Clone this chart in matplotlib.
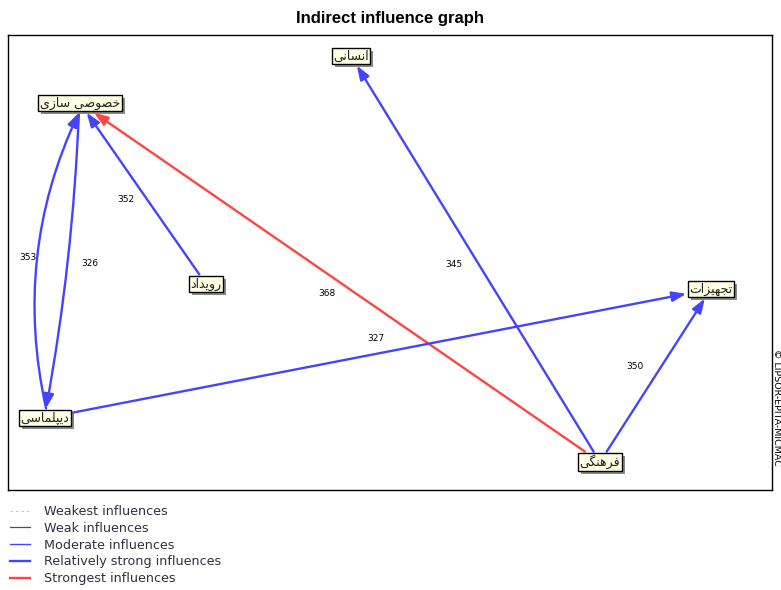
import matplotlib
matplotlib.use("Agg")
import matplotlib.pyplot as plt
from matplotlib.patches import FancyArrowPatch, Rectangle
from matplotlib.lines import Line2D

# graph data
nodes = ["خصوصی سازی", "انسانی", "رویداد", "تجهیزات", "دیپلماسی", "فرهنگی"]
edge_src = ["رویداد", "دیپلماسی", "خصوصی سازی", "فرهنگی", "فرهنگی", "فرهنگی", "دیپلماسی"]
edge_dst = ["خصوصی سازی", "خصوصی سازی", "دیپلماسی", "خصوصی سازی", "انسانی", "تجهیزات", "تجهیزات"]
edge_val = [352, 353, 326, 368, 345, 350, 327]
edge_kind = ["rstrong", "rstrong", "rstrong", "strongest", "rstrong", "rstrong", "rstrong"]

legend_labels = ["Weakest influences", "Weak influences", "Moderate influences",
                 "Relatively strong influences", "Strongest influences"]

# layout (pixel-like coordinates of the frame)
pos = {
    "خصوصی سازی": (80, 103),
    "انسانی": (351, 56),
    "رویداد": (206, 284),
    "تجهیزات": (711, 289),
    "دیپلماسی": (45, 418),
    "فرهنگی": (600, 462),
}
edge_rad = [0, -0.17, -0.035, 0, 0, 0, 0]
label_off = [(-17, 6), (0, 0), (0, 0), (-13, 11), (-21, 6), (-21, -9), (-4, -15)]
curve_label_pos = {1: (28, 258), 2: (90, 264)}

styles = {
    "weakest": dict(color="#c0c0c0", lw=0.8, ls=(0, (2, 3))),
    "weak": dict(color="#505050", lw=0.9, ls="-"),
    "moderate": dict(color="#4444ff", lw=1.0, ls="-"),
    "rstrong": dict(color="#4444ff", lw=1.7, ls="-"),
    "strongest": dict(color="#ff4444", lw=1.7, ls="-"),
}

# Arabic shaping (matplotlib has no complex text layout)
FORMS = {
    'ا': ('\uFE8D', '\uFE8E', None, None),
    'پ': ('\uFB56', '\uFB57', '\uFB58', '\uFB59'),
    'ت': ('\uFE95', '\uFE96', '\uFE97', '\uFE98'),
    'ج': ('\uFE9D', '\uFE9E', '\uFE9F', '\uFEA0'),
    'خ': ('\uFEA5', '\uFEA6', '\uFEA7', '\uFEA8'),
    'د': ('\uFEA9', '\uFEAA', None, None),
    'ر': ('\uFEAD', '\uFEAE', None, None),
    'ز': ('\uFEAF', '\uFEB0', None, None),
    'س': ('\uFEB1', '\uFEB2', '\uFEB3', '\uFEB4'),
    'ص': ('\uFEB9', '\uFEBA', '\uFEBB', '\uFEBC'),
    'ف': ('\uFED1', '\uFED2', '\uFED3', '\uFED4'),
    'گ': ('\uFB92', '\uFB93', '\uFB94', '\uFB95'),
    'ل': ('\uFEDD', '\uFEDE', '\uFEDF', '\uFEE0'),
    'م': ('\uFEE1', '\uFEE2', '\uFEE3', '\uFEE4'),
    'ن': ('\uFEE5', '\uFEE6', '\uFEE7', '\uFEE8'),
    'ه': ('\uFEE9', '\uFEEA', '\uFEEB', '\uFEEC'),
    'و': ('\uFEED', '\uFEEE', None, None),
    'ی': ('\uFBFC', '\uFBFD', '\uFBFE', '\uFBFF'),
}


def shape(s):
    out = []
    for i, ch in enumerate(s):
        if ch not in FORMS:
            out.append(ch)
            continue
        prev = s[i - 1] if i > 0 else None
        nxt = s[i + 1] if i + 1 < len(s) else None
        f = FORMS[ch]
        jp = prev in FORMS and FORMS[prev][2] is not None
        jn = nxt in FORMS and f[2] is not None
        if jp and jn:
            g = f[3]
        elif jp:
            g = f[1]
        elif jn:
            g = f[2]
        else:
            g = f[0]
        out.append(g)
    return "".join(reversed(out))


W, H = 781, 590
fig = plt.figure(figsize=(W / 100, H / 100), dpi=100)
x0, x1, y0, y1 = 8, 772, 35, 490
ax = fig.add_axes([x0 / W, 1 - y1 / H, (x1 - x0) / W, (y1 - y0) / H])
ax.set_xlim(x0, x1)
ax.set_ylim(y1, y0)
ax.set_xticks([])
ax.set_yticks([])
for sp in ax.spines.values():
    sp.set_linewidth(1.0)
    sp.set_color("black")

fig.text(0.5, 1 - 18 / H, "Indirect influence graph", ha="center", va="center",
         fontsize=12, fontweight="bold", family="Liberation Sans")

fig.text(776 / W, 1 - 407 / H, "© LIPSOR-EPITA-MICMAC", rotation=-90,
         ha="center", va="center", fontsize=6.8, family="DejaVu Sans")

# node labels
boxes = {}
for n in nodes:
    x, y = pos[n]
    boxes[n] = ax.text(x, y, shape(n), ha="center", va="center", fontsize=9,
                       color="#202020", family="DejaVu Sans", zorder=5,
                       bbox=dict(boxstyle="square,pad=0.12", fc="#ffffe4", ec="black", lw=1))

fig.canvas.draw()
inv = ax.transData.inverted()
half = {}
for n in nodes:
    bb = boxes[n].get_bbox_patch().get_window_extent()
    (ax_, ay_), (bx_, by_) = inv.transform([(bb.x0, bb.y0), (bb.x1, bb.y1)])
    w, h = abs(bx_ - ax_), abs(by_ - ay_)
    half[n] = (w / 2 + 1.5, h / 2 + 1.5)
    # drop shadow
    ax.add_patch(Rectangle((min(ax_, bx_) + 3, min(ay_, by_) + 3), w, h,
                           fc="#8a8a8a", ec="none", zorder=4))


def clip(a, b):
    cx, cy = pos[a]
    dx, dy = pos[b][0] - cx, pos[b][1] - cy
    hw, hh = half[a]
    t = min(hw / abs(dx) if dx else 1e9, hh / abs(dy) if dy else 1e9)
    return cx + t * dx, cy + t * dy


for i, (s, d) in enumerate(zip(edge_src, edge_dst)):
    st = styles[edge_kind[i]]
    pa = clip(s, d)
    pb = clip(d, s)
    arr = FancyArrowPatch(pa, pb, arrowstyle="-|>,head_length=0.7,head_width=0.25",
                          mutation_scale=12, connectionstyle=f"arc3,rad={edge_rad[i]}",
                          color=st["color"], lw=st["lw"], zorder=3, shrinkA=0, shrinkB=0)
    ax.add_patch(arr)
    if i in curve_label_pos:
        lx, ly = curve_label_pos[i]
    else:
        lx = (pa[0] + pb[0]) / 2 + label_off[i][0]
        ly = (pa[1] + pb[1]) / 2 + label_off[i][1]
    ax.text(lx, ly, str(edge_val[i]), ha="center", va="center", fontsize=6.5,
            family="DejaVu Sans", zorder=6)

handles = [Line2D([], [], color=styles[k]["color"], lw=styles[k]["lw"], ls=styles[k]["ls"])
           for k in ["weakest", "weak", "moderate", "rstrong", "strongest"]]
leg = fig.legend(handles, legend_labels, loc="upper left", bbox_to_anchor=(10 / W, 1 - 505 / H),
                 frameon=False, handlelength=1.6, handletextpad=1.05,
                 labelspacing=0.3, borderpad=0, borderaxespad=0,
                 prop=dict(family="DejaVu Sans", size=9.2))
for t in leg.get_texts():
    t.set_color("#303040")

fig.savefig("out.png", dpi=100)
